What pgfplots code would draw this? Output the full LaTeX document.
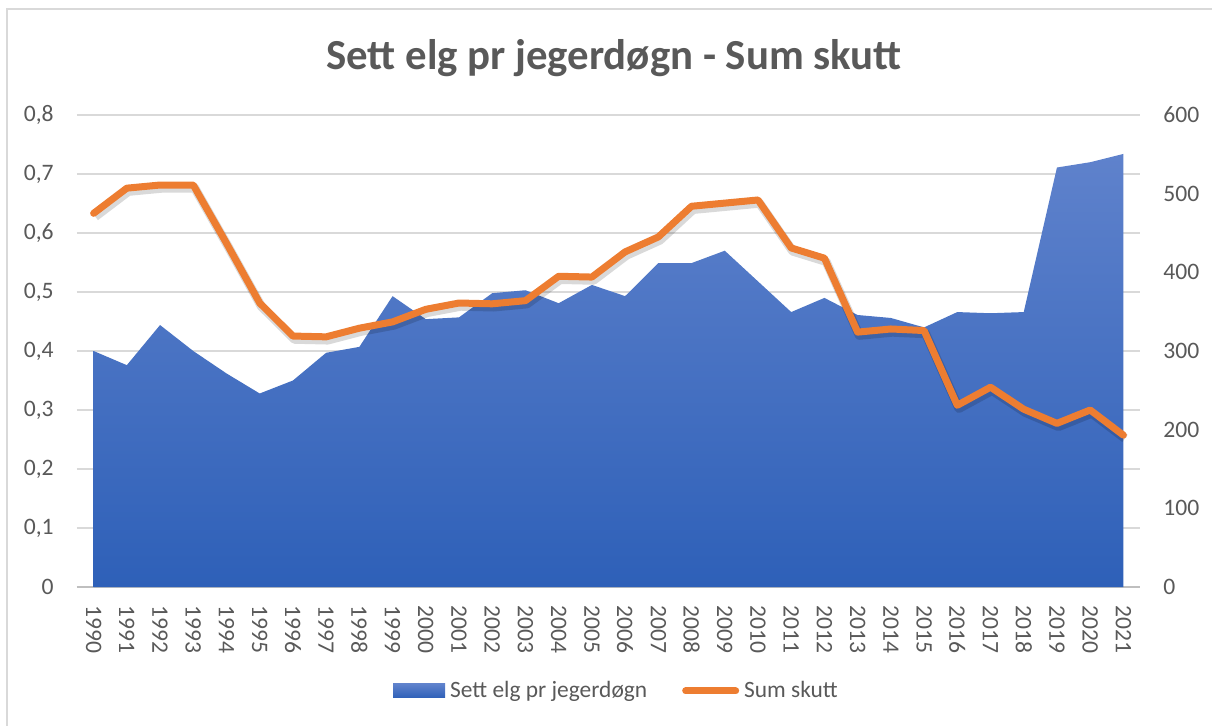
\documentclass[border=0pt]{standalone}
\usepackage{pgfplots}
\pgfplotsset{compat=1.18}
\usepackage{pgfplotstable}
\usepackage{fontspec}
\setmainfont{Carlito}
\definecolor{txt}{RGB}{89,89,89}
\definecolor{gridc}{RGB}{217,217,217}
\definecolor{axisln}{RGB}{191,191,191}
\definecolor{orng}{RGB}{237,125,49}
\definecolor{btop}{RGB}{95,130,204}
\definecolor{bbot}{RGB}{46,96,184}
\definecolor{borderc}{RGB}{217,217,217}

\pgfplotstableread{
year elg skutt
1990 0.400 475
1991 0.376 507
1992 0.444 511
1993 0.400 511
1994 0.362 437
1995 0.328 361
1996 0.350 319
1997 0.397 318
1998 0.407 329
1999 0.493 337
2000 0.454 353
2001 0.457 361
2002 0.498 360
2003 0.503 364
2004 0.481 395
2005 0.512 394
2006 0.493 426
2007 0.549 445
2008 0.549 484
2009 0.570 488
2010 0.518 492
2011 0.466 431
2012 0.490 418
2013 0.461 324
2014 0.456 328
2015 0.440 326
2016 0.466 231
2017 0.464 254
2018 0.466 226
2019 0.711 208
2020 0.720 225
2021 0.734 193
}\data

\begin{document}
\begin{tikzpicture}[x=1pt,y=1pt]
\useasboundingbox (0,0) rectangle (606,362.5);
\draw[borderc, line width=0.75pt] (3.5,-5) -- (3.5,358) -- (615,358);
\node[anchor=base, font=\fontsize{21.4}{25}\bfseries\selectfont, text=txt] at (307, 327.5) {Sett elg pr jegerdøgn - Sum skutt};

\begin{axis}[
  at={(38.5pt,69pt)}, anchor=south west, scale only axis,
  width=531.5pt, height=236pt,
  xmin=1989.5, xmax=2021.5, ymin=0, ymax=0.8,
  xtick={1990,1991,...,2021},
  ytick={0,0.1,0.2,0.3,0.4,0.5,0.6,0.7,0.8},
  major tick length=0pt,
  axis line style={draw=none},
  ymajorgrids, major grid style={draw=gridc, line width=0.6pt},
  extra y ticks={0}, extra y tick labels={},
  extra y tick style={major grid style={draw=axisln, line width=0.9pt}},
  /pgf/number format/assume math mode=true,
  tick label style={font=\fontsize{11.8}{14}\selectfont, text=txt},
  xticklabel style={rotate=-90, anchor=west, inner sep=0pt, /pgf/number format/1000 sep={}},
  xticklabel shift=9pt,
  yticklabel style={inner sep=0pt, /pgf/number format/.cd, use comma, fixed, precision=1},
  yticklabel shift=11.5pt,
  legend columns=-1,
  legend style={at={(0.5066,-0.2203)}, anchor=center, draw=none, fill=none,
    font=\fontsize{11.7}{14}\selectfont, text=txt,
    nodes={inner sep=0pt},
    /tikz/every odd column/.append style={column sep=2.5pt},
    /tikz/every even column/.append style={column sep=17.5pt}},
]
\addplot[draw=none, top color=btop, bottom color=bbot, forget plot] table[x=year, y=elg] {\data} \closedcycle;
\addlegendimage{draw=none, legend image code/.code={\path[draw=none, top color=btop, bottom color=bbot] (0pt,-3.5pt) rectangle (26pt,3.5pt);}}
\addlegendentry{Sett elg pr jegerdøgn}
\addlegendimage{orng, legend image code/.code={\draw[orng, line width=3.5pt, line cap=round] (1.75pt,0pt) -- (26.75pt,0pt);}}
\addlegendentry{Sum skutt}
\end{axis}

\begin{axis}[
  at={(38.5pt,69pt)}, anchor=south west, scale only axis,
  width=531.5pt, height=236pt,
  xmin=1989.5, xmax=2021.5, ymin=0, ymax=600,
  hide x axis,
  axis y line*=right,
  y axis line style={draw=none},
  ytick={0,100,200,300,400,500,600},
  major tick length=0pt,
  /pgf/number format/assume math mode=true,
  tick label style={font=\fontsize{11.8}{14}\selectfont, text=txt},
  yticklabel style={inner sep=0pt, anchor=west},
  yticklabel shift=11.5pt,
]
\addplot[black, opacity=0.15, line width=4.5pt, line join=round, xshift=0.8pt, yshift=-1.6pt, forget plot] table[x=year, y=skutt] {\data};
\addplot[orng, line width=3.5pt, line join=round, line cap=round, mark=none] table[x=year, y=skutt] {\data};
\end{axis}
\end{tikzpicture}
\end{document}
